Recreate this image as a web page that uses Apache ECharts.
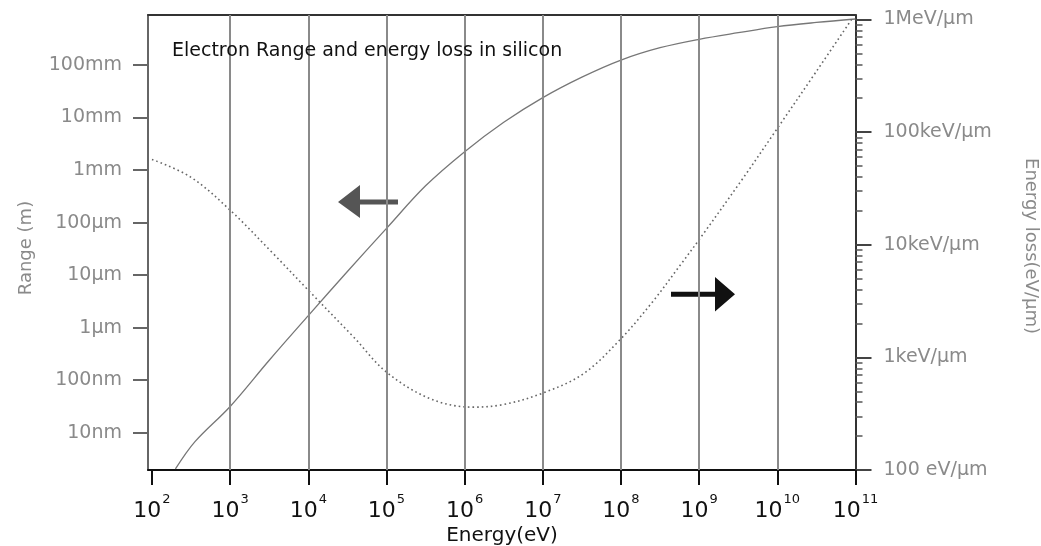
<!DOCTYPE html>
<html><head><meta charset="utf-8">
<script src="https://cdn.jsdelivr.net/npm/echarts@6/dist/echarts.min.js"></script>
<style>html,body{margin:0;padding:0;background:#fff}#c{width:1041px;height:546px}</style>
</head><body><div id="c"></div>
<script>
const FONT = '"DejaVu Sans", sans-serif';

// x: log10(Energy / eV)
const energyTicks = [2, 3, 4, 5, 6, 7, 8, 9, 10, 11];
const gridEnergies = [3, 4, 5, 6, 7, 8, 9, 10];

// left axis: log10(range / m)
const rangeTickValues = [-1, -2, -3, -4, -5, -6, -7, -8];
const rangeTickLabels = ['100mm', '10mm', '1mm', '100µm', '10µm', '1µm', '100nm', '10nm'];

// right axis: log10(energy loss / (eV/µm))
const lossTickValues = [2, 3, 4, 5, 6];
const lossTickLabels = ['100 eV/µm', '1keV/µm', '10keV/µm', '100keV/µm', '1MeV/µm'];
const lossMinorFactors = [2, 3, 4, 5, 6, 7, 8, 9];

// Electron range (solid line): log10 E, log10 R
const rangeLogE = [2.30, 2.55, 3.0, 3.5, 4.0, 4.5, 5.0, 5.5, 6.0, 6.5, 7.0, 7.5, 8.0, 8.5, 9.0, 9.5, 10.0, 10.5, 11.0];
const rangeLogR = [-8.69, -8.17, -7.50, -6.62, -5.77, -4.93, -4.11, -3.30, -2.65, -2.09, -1.62, -1.23, -0.905, -0.67, -0.51, -0.385, -0.27, -0.19, -0.124];

// Energy loss (dotted line): log10 E, log10 dE/dx
const lossLogE = [2.0, 2.49, 3.0, 3.55, 4.0, 4.58, 5.0, 5.56, 6.1, 6.5, 7.0, 7.52, 8.0, 8.4, 8.77, 9.0, 9.53, 10.0, 10.5, 10.96];
const lossLogL = [4.757, 4.603, 4.307, 3.922, 3.596, 3.180, 2.869, 2.633, 2.558, 2.582, 2.683, 2.855, 3.166, 3.49, 3.83, 4.046, 4.56, 5.033, 5.54, 6.011];

const lossMinorTicks = [];
for (let d = 2; d < 6; d++) lossMinorFactors.forEach(k => lossMinorTicks.push(d + Math.log10(k)));

const X_MIN = 1.949, X_MAX = 11;
const YL_MIN = -8.71, YL_MAX = -0.048;
const YR_MIN = 2, YR_MAX = 6.04;

const chart = echarts.init(document.getElementById('c'), null, {renderer: 'canvas'});

const option = {
  backgroundColor: '#fff',
  animation: false,
  textStyle: {fontFamily: FONT},
  title: {
    text: 'Electron Range and energy loss in silicon',
    left: 172, top: 42, padding: 0,
    textStyle: {fontFamily: FONT, fontSize: 19, fontWeight: 'normal', color: '#111'}
  },
  grid: {left: 148, right: 185.5, top: 15, bottom: 76, containLabel: false},
  xAxis: [{
    type: 'value', position: 'bottom', min: X_MIN, max: X_MAX,
    axisLine: {show: true, lineStyle: {color: '#111', width: 2}},
    axisTick: {show: true, customValues: energyTicks, length: 15, lineStyle: {color: '#111', width: 2}},
    axisLabel: {
      show: true, customValues: energyTicks, margin: 23,
      formatter: v => '{b|10}{s|' + Math.round(v) + '}',
      rich: {
        b: {fontFamily: FONT, fontSize: 22, color: '#111', verticalAlign: 'bottom', padding: [7, 0, 0, 0]},
        s: {fontFamily: FONT, fontSize: 13, color: '#111', verticalAlign: 'top', padding: [0, 0, 0, 1]}
      }
    },
    splitLine: {show: false}
  }, {
    type: 'value', position: 'top', min: X_MIN, max: X_MAX,
    axisLine: {show: true, lineStyle: {color: '#333', width: 2}},
    axisTick: {show: false}, axisLabel: {show: false}, splitLine: {show: false}
  }],
  yAxis: [{
    type: 'value', position: 'left', min: YL_MIN, max: YL_MAX,
    axisLine: {show: true, lineStyle: {color: '#666', width: 2}},
    axisTick: {show: true, customValues: rangeTickValues, length: 15, lineStyle: {color: '#666', width: 2}},
    axisLabel: {
      show: true, customValues: rangeTickValues, margin: 26,
      fontFamily: FONT, fontSize: 19, color: '#8a8a8a',
      formatter: v => { const i = rangeTickValues.indexOf(Math.round(v)); return i >= 0 ? rangeTickLabels[i] : ''; }
    },
    splitLine: {show: false}
  }, {
    type: 'value', position: 'right', min: YR_MIN, max: YR_MAX,
    axisLine: {show: true, lineStyle: {color: '#333', width: 2}},
    axisTick: {show: true, customValues: lossTickValues, length: 16, lineStyle: {color: '#444', width: 2}},
    axisLabel: {
      show: true, customValues: lossTickValues, margin: 28,
      fontFamily: FONT, fontSize: 19, color: '#8a8a8a',
      formatter: v => { const i = lossTickValues.indexOf(Math.round(v)); return i >= 0 ? lossTickLabels[i] : ''; }
    },
    splitLine: {show: false}
  }, {
    type: 'value', position: 'right', offset: 0, min: YR_MIN, max: YR_MAX,
    axisLine: {show: false},
    axisTick: {show: true, customValues: lossMinorTicks, length: 7, lineStyle: {color: '#555', width: 1.5}},
    axisLabel: {show: false},
    splitLine: {show: false}
  }],
  series: [{
    name: 'Range', type: 'line', xAxisIndex: 0, yAxisIndex: 0,
    data: rangeLogE.map((e, i) => [e, rangeLogR[i]]),
    showSymbol: false, smooth: 0.35,
    lineStyle: {color: '#777', width: 1.3},
    z: 3,
    markLine: {
      silent: true, symbol: 'none', label: {show: false},
      lineStyle: {color: '#8a8a8a', width: 2, type: 'solid'},
      data: gridEnergies.map(v => ({xAxis: v}))
    }
  }, {
    name: 'Energy loss', type: 'line', xAxisIndex: 0, yAxisIndex: 1,
    data: lossLogE.map((e, i) => [e, lossLogL[i]]),
    showSymbol: false, smooth: 0.35,
    lineStyle: {color: '#666', width: 1.6, type: [1.6, 3]},
    z: 3
  }],
  graphic: [
    {type: 'text', x: 26, y: 248, rotation: Math.PI / 2,
     style: {text: 'Range (m)', fill: '#8a8a8a', font: '18px ' + FONT, textAlign: 'center', textVerticalAlign: 'middle', align: 'center', verticalAlign: 'middle'}},
    {type: 'text', x: 1031, y: 246, rotation: -Math.PI / 2,
     style: {text: 'Energy loss(eV/µm)', fill: '#8a8a8a', font: '18px ' + FONT, textAlign: 'center', textVerticalAlign: 'middle', align: 'center', verticalAlign: 'middle'}},
    {type: 'text', x: 502, y: 536,
     style: {text: 'Energy(eV)', fill: '#111', font: '20px ' + FONT, textAlign: 'center', textVerticalAlign: 'middle', align: 'center', verticalAlign: 'middle'}},
    {type: 'polygon', shape: {points: [[338, 202], [360, 185], [360, 199.5], [398, 199.5], [398, 204.5], [360, 204.5], [360, 218]]},
     style: {fill: '#555'}},
    {type: 'polygon', shape: {points: [[671, 291.7], [715, 291.7], [715, 277], [735, 294.2], [715, 311.5], [715, 296.7], [671, 296.7]]},
     style: {fill: '#111'}}
  ]
};
chart.setOption(option);
</script>
</body></html>
